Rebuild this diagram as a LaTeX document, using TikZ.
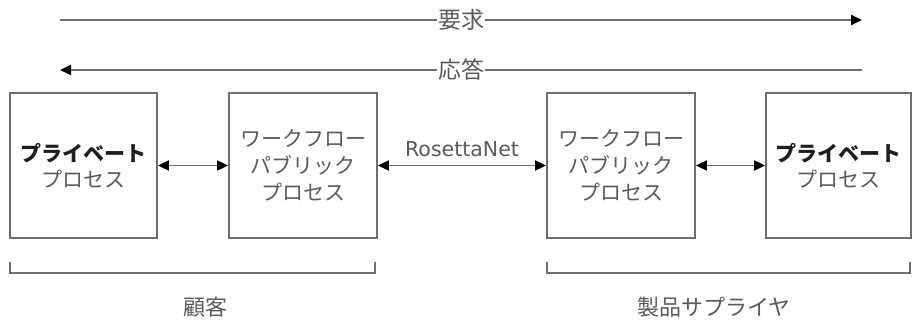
\documentclass[tikz,border=0pt]{standalone}
\usepackage{fontspec}
\newfontfamily\jp{Noto Sans CJK JP}
\newfontfamily\lat{DejaVu Sans}
\usetikzlibrary{arrows.meta}
\definecolor{linegray}{HTML}{6E6E6E}
\definecolor{textgray}{HTML}{5A5A5A}
\definecolor{darktext}{HTML}{1E1E1E}
\begin{document}
\begin{tikzpicture}[x=1pt,y=-1pt,
  conn/.style={draw=linegray,line width=1.8pt},
  headtip/.style={{Triangle[length=11pt,width=10pt,color=black]}-{Triangle[length=11pt,width=10pt,color=black]}},
  endtip/.style={-{Triangle[length=11pt,width=10pt,color=black]}},
  procbox/.style={draw=linegray,line width=1.8pt,rectangle,minimum height=145pt,
    align=center,text=textgray,font=\jp\fontsize{21}{27}\selectfont,inner sep=0pt},
  flowlabel/.style={fill=white,text=textgray,font=\jp\fontsize{23}{24}\selectfont,inner xsep=1pt,inner ysep=0pt},
  grouplabel/.style={text=textgray,font=\jp\fontsize{22}{24}\selectfont,inner sep=0pt}]
\useasboundingbox (0,0) rectangle (912,320);

% request / response flows across the whole chain
\coordinate (reqL) at (60,20);
\coordinate (reqR) at (862,20);
\coordinate (resL) at (60,70);
\coordinate (resR) at (862,70);
\draw[conn,endtip] (reqL) -- node[flowlabel] (req) {要求} (reqR);
\draw[conn,endtip] (resR) -- node[flowlabel] (res) {応答} (resL);

% process boxes
\node[procbox,minimum width=147pt] (cpriv) at (83.5,165.5)
  {{\color{darktext}\bfseries プライベート}\\[-1pt]プロセス};
\node[procbox,minimum width=148pt] (cpub) at (303,165.5)
  {ワークフロー\\パブリック\\プロセス};
\node[procbox,minimum width=148pt] (spub) at (621,165.5)
  {ワークフロー\\パブリック\\プロセス};
\node[procbox,minimum width=145pt] (spriv) at (838.5,165.5)
  {{\color{darktext}\bfseries プライベート}\\[-1pt]プロセス};

% message exchanges
\draw[conn,headtip] (cpriv.east) -- (cpub.west);
\draw[conn,headtip] (cpub.east) -- node[above=8pt,inner sep=0pt,text=textgray,font=\lat\fontsize{20.5}{22}\selectfont] (rn) {RosettaNet} (spub.west);
\draw[conn,headtip] (spub.east) -- (spriv.west);

% party brackets
\coordinate (cb1) at (10,262);
\coordinate (cb2) at (10,273);
\coordinate (cb3) at (375,273);
\coordinate (cb4) at (375,262);
\draw[conn] (cb1) -- (cb2) -- (cb3) -- (cb4);
\coordinate (sb1) at (547,262);
\coordinate (sb2) at (547,273);
\coordinate (sb3) at (910,273);
\coordinate (sb4) at (910,262);
\draw[conn] (sb1) -- (sb2) -- (sb3) -- (sb4);

\node[grouplabel] (cust) at (205,307) {顧客};
\node[grouplabel] (supp) at (714,307) {製品サプライヤ};
\end{tikzpicture}
\end{document}
